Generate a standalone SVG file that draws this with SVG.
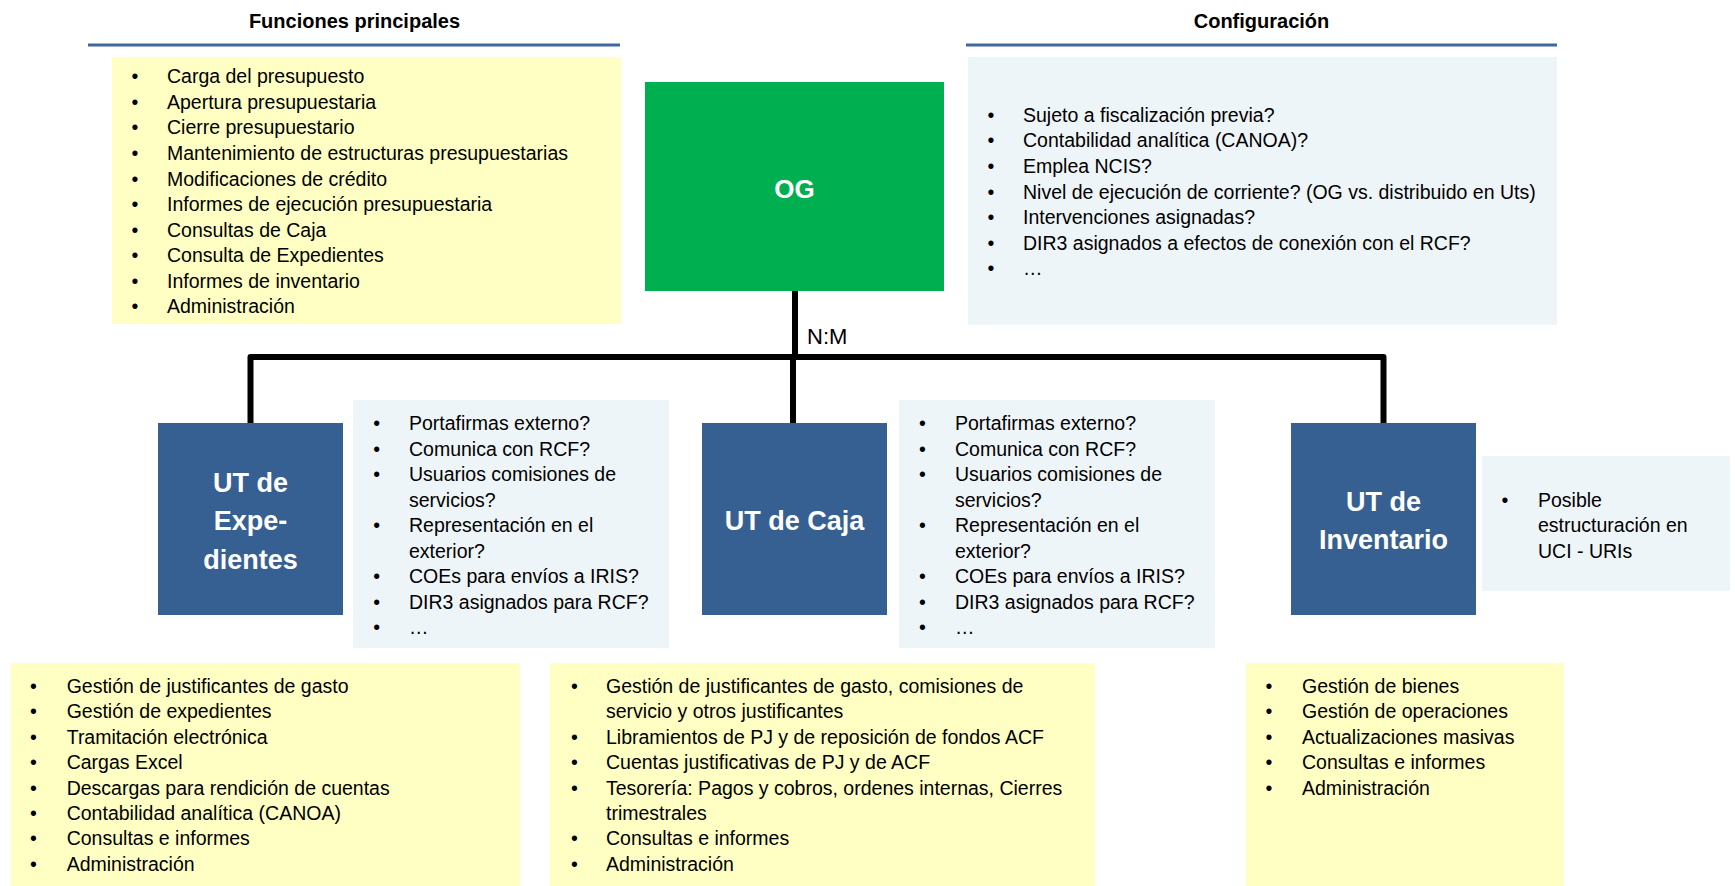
<svg xmlns="http://www.w3.org/2000/svg" width="1735" height="886" viewBox="0 0 1735 886">
  <style>
    .bg { fill: #ffffff; }
    .yellow { fill: #FFFFC4; }
    .pale { fill: #EEF5F8; }
    .unit { fill: #376092; }
    .og { fill: #00B050; }
    .rule { stroke: #41679F; stroke-width: 3; fill: none; }
    .link { stroke: #000000; stroke-width: 6; fill: none; stroke-linejoin: round; stroke-linecap: butt; }
    .head { font-family: "Liberation Sans", Arial, sans-serif; font-weight: bold; font-size: 20px; fill: #000000; text-anchor: middle; }
    .txt { font-family: "Liberation Sans", Arial, sans-serif; font-size: 19.5px; fill: #000000; }
    .dot { font-family: "Liberation Sans", Arial, sans-serif; font-size: 19.5px; fill: #000000; text-anchor: middle; }
    .box-title { font-family: "Liberation Sans", Arial, sans-serif; font-weight: bold; font-size: 27px; fill: #ffffff; text-anchor: middle; }
    .lbl { font-family: "Liberation Sans", Arial, sans-serif; font-size: 22px; fill: #000000; }
  </style>

  <rect class="bg" x="0" y="0" width="1735" height="886"/>

  <!-- Section headings -->
  <g id="heading-funciones">
    <text class="head" x="354.5" y="28">Funciones principales</text>
    <line class="rule" x1="88" y1="45" x2="620" y2="45"/>
  </g>
  <g id="heading-configuracion">
    <text class="head" x="1261.5" y="28">Configuración</text>
    <line class="rule" x1="966" y1="45" x2="1557" y2="45"/>
  </g>

  <!-- Connectors -->
  <g id="connectors">
    <path class="link" d="M795,291 V357"/>
    <path class="link" d="M250.5,424 V357 H1383.5 V424"/>
    <path class="link" d="M793,357 V424"/>
    <text class="lbl" x="807" y="344">N:M</text>
  </g>

  <!-- Main functions of the OG -->
  <g id="og-funciones">
    <rect class="yellow" x="112" y="57" width="509" height="267"/>
    <g class="dot">
      <text x="135" y="83.3">•</text><text x="135" y="108.9">•</text><text x="135" y="134.4">•</text>
      <text x="135" y="160">•</text><text x="135" y="185.5">•</text><text x="135" y="211.1">•</text>
      <text x="135" y="236.6">•</text><text x="135" y="262.2">•</text><text x="135" y="287.7">•</text>
      <text x="135" y="313.3">•</text>
    </g>
    <g class="txt">
      <text x="167" y="83.3">Carga del presupuesto</text>
      <text x="167" y="108.9">Apertura presupuestaria</text>
      <text x="167" y="134.4">Cierre presupuestario</text>
      <text x="167" y="160">Mantenimiento de estructuras presupuestarias</text>
      <text x="167" y="185.5">Modificaciones de crédito</text>
      <text x="167" y="211.1">Informes de ejecución presupuestaria</text>
      <text x="167" y="236.6">Consultas de Caja</text>
      <text x="167" y="262.2">Consulta de Expedientes</text>
      <text x="167" y="287.7">Informes de inventario</text>
      <text x="167" y="313.3">Administración</text>
    </g>
  </g>

  <!-- OG node -->
  <g id="og">
    <rect class="og" x="645" y="82" width="299" height="209"/>
    <text class="box-title" x="794.5" y="198" style="font-size:26px">OG</text>
  </g>

  <!-- OG configuration -->
  <g id="og-configuracion">
    <rect class="pale" x="968" y="57" width="589" height="268"/>
    <g class="dot">
      <text x="991" y="121.7">•</text><text x="991" y="147.3">•</text><text x="991" y="172.9">•</text>
      <text x="991" y="198.5">•</text><text x="991" y="224.1">•</text><text x="991" y="249.7">•</text>
      <text x="991" y="275.3">•</text>
    </g>
    <g class="txt">
      <text x="1023" y="121.7">Sujeto a fiscalización previa?</text>
      <text x="1023" y="147.3">Contabilidad analítica (CANOA)?</text>
      <text x="1023" y="172.9">Emplea NCIS?</text>
      <text x="1023" y="198.5">Nivel de ejecución de corriente? (OG vs. distribuido en Uts)</text>
      <text x="1023" y="224.1">Intervenciones asignadas?</text>
      <text x="1023" y="249.7">DIR3 asignados a efectos de conexión con el RCF?</text>
      <text x="1023" y="275.3">…</text>
    </g>
  </g>

  <!-- UT de Expedientes -->
  <g id="ut-expedientes">
    <rect class="unit" x="158" y="423" width="185" height="192"/>
    <text class="box-title" x="250.5" y="491.5">UT de</text>
    <text class="box-title" x="250.5" y="530">Expe-</text>
    <text class="box-title" x="250.5" y="568.5">dientes</text>
  </g>
  <g id="ut-expedientes-config">
    <rect class="pale" x="353" y="400" width="316" height="248"/>
    <g class="dot">
      <text x="376.7" y="430">•</text><text x="376.7" y="455.5">•</text><text x="376.7" y="481.1">•</text>
      <text x="376.7" y="532.2">•</text><text x="376.7" y="583.3">•</text><text x="376.7" y="608.8">•</text>
      <text x="376.7" y="634.4">•</text>
    </g>
    <g class="txt">
      <text x="409" y="430">Portafirmas externo?</text>
      <text x="409" y="455.5">Comunica con RCF?</text>
      <text x="409" y="481.1">Usuarios comisiones de</text>
      <text x="409" y="506.6">servicios?</text>
      <text x="409" y="532.2">Representación en el</text>
      <text x="409" y="557.7">exterior?</text>
      <text x="409" y="583.3">COEs para envíos a IRIS?</text>
      <text x="409" y="608.8">DIR3 asignados para RCF?</text>
      <text x="409" y="634.4">…</text>
    </g>
  </g>
  <g id="ut-expedientes-funciones">
    <rect class="yellow" x="11" y="663" width="509" height="223"/>
    <g class="dot">
      <text x="33.3" y="692.7">•</text><text x="33.3" y="718.2">•</text><text x="33.3" y="743.6">•</text>
      <text x="33.3" y="769.1">•</text><text x="33.3" y="794.5">•</text><text x="33.3" y="820">•</text>
      <text x="33.3" y="845.4">•</text><text x="33.3" y="870.9">•</text>
    </g>
    <g class="txt">
      <text x="66.7" y="692.7">Gestión de justificantes de gasto</text>
      <text x="66.7" y="718.2">Gestión de expedientes</text>
      <text x="66.7" y="743.6">Tramitación electrónica</text>
      <text x="66.7" y="769.1">Cargas Excel</text>
      <text x="66.7" y="794.5">Descargas para rendición de cuentas</text>
      <text x="66.7" y="820">Contabilidad analítica (CANOA)</text>
      <text x="66.7" y="845.4">Consultas e informes</text>
      <text x="66.7" y="870.9">Administración</text>
    </g>
  </g>

  <!-- UT de Caja -->
  <g id="ut-caja">
    <rect class="unit" x="702" y="423" width="185" height="192"/>
    <text class="box-title" x="794.5" y="530">UT de Caja</text>
  </g>
  <g id="ut-caja-config">
    <rect class="pale" x="899" y="400" width="316" height="248"/>
    <g class="dot">
      <text x="922.5" y="430">•</text><text x="922.5" y="455.5">•</text><text x="922.5" y="481.1">•</text>
      <text x="922.5" y="532.2">•</text><text x="922.5" y="583.3">•</text><text x="922.5" y="608.8">•</text>
      <text x="922.5" y="634.4">•</text>
    </g>
    <g class="txt">
      <text x="955" y="430">Portafirmas externo?</text>
      <text x="955" y="455.5">Comunica con RCF?</text>
      <text x="955" y="481.1">Usuarios comisiones de</text>
      <text x="955" y="506.6">servicios?</text>
      <text x="955" y="532.2">Representación en el</text>
      <text x="955" y="557.7">exterior?</text>
      <text x="955" y="583.3">COEs para envíos a IRIS?</text>
      <text x="955" y="608.8">DIR3 asignados para RCF?</text>
      <text x="955" y="634.4">…</text>
    </g>
  </g>
  <g id="ut-caja-funciones">
    <rect class="yellow" x="550" y="663" width="545" height="223"/>
    <g class="dot">
      <text x="574.3" y="692.7">•</text><text x="574.3" y="743.6">•</text><text x="574.3" y="769.1">•</text>
      <text x="574.3" y="794.5">•</text><text x="574.3" y="845.4">•</text><text x="574.3" y="870.9">•</text>
    </g>
    <g class="txt">
      <text x="606" y="692.7">Gestión de justificantes de gasto, comisiones de</text>
      <text x="606" y="718.2">servicio y otros justificantes</text>
      <text x="606" y="743.6">Libramientos de PJ y de reposición de fondos ACF</text>
      <text x="606" y="769.1">Cuentas justificativas de PJ y de ACF</text>
      <text x="606" y="794.5">Tesorería: Pagos y cobros, ordenes internas, Cierres</text>
      <text x="606" y="820">trimestrales</text>
      <text x="606" y="845.4">Consultas e informes</text>
      <text x="606" y="870.9">Administración</text>
    </g>
  </g>

  <!-- UT de Inventario -->
  <g id="ut-inventario">
    <rect class="unit" x="1291" y="423" width="185" height="192"/>
    <text class="box-title" x="1383.5" y="511">UT de</text>
    <text class="box-title" x="1383.5" y="549">Inventario</text>
  </g>
  <g id="ut-inventario-config">
    <rect class="pale" x="1482" y="456" width="248" height="135"/>
    <text class="dot" x="1505" y="506.5">•</text>
    <g class="txt">
      <text x="1538" y="506.5">Posible</text>
      <text x="1538" y="532">estructuración en</text>
      <text x="1538" y="557.6">UCI - URIs</text>
    </g>
  </g>
  <g id="ut-inventario-funciones">
    <rect class="yellow" x="1246" y="663" width="318" height="223"/>
    <g class="dot">
      <text x="1269" y="692.7">•</text><text x="1269" y="718.2">•</text><text x="1269" y="743.6">•</text>
      <text x="1269" y="769.1">•</text><text x="1269" y="794.5">•</text>
    </g>
    <g class="txt">
      <text x="1302" y="692.7">Gestión de bienes</text>
      <text x="1302" y="718.2">Gestión de operaciones</text>
      <text x="1302" y="743.6">Actualizaciones masivas</text>
      <text x="1302" y="769.1">Consultas e informes</text>
      <text x="1302" y="794.5">Administración</text>
    </g>
  </g>
</svg>
